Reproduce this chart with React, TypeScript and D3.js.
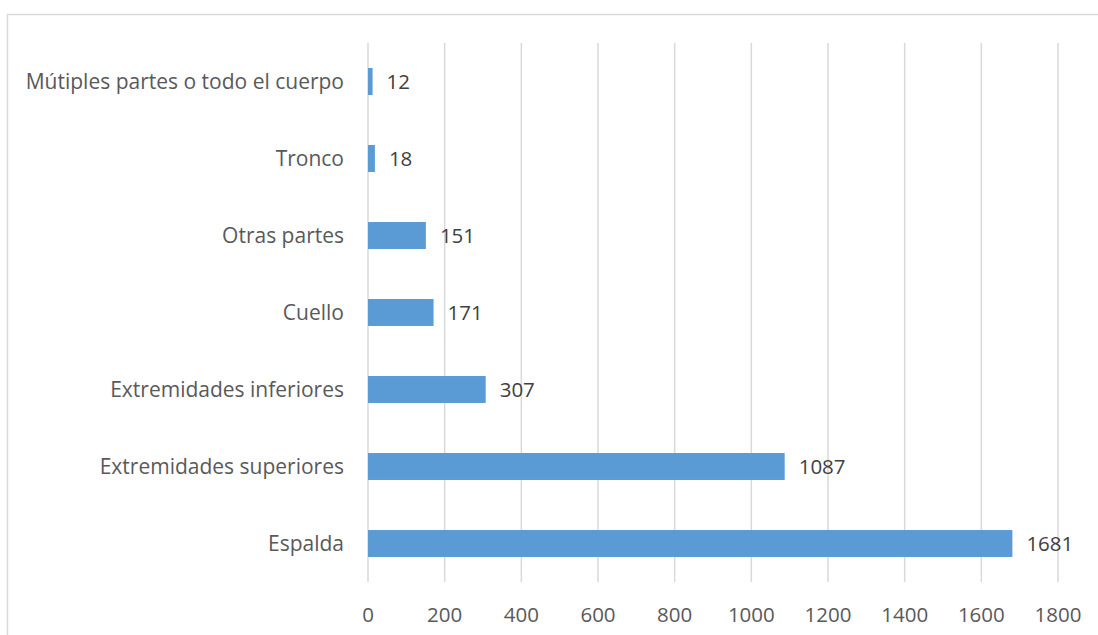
import React from "react";
import * as d3 from "d3";

const categories = [
  "Mútiples partes o todo el cuerpo",
  "Tronco",
  "Otras partes",
  "Cuello",
  "Extremidades inferiores",
  "Extremidades superiores",
  "Espalda",
];
const values = [12, 18, 151, 171, 307, 1087, 1681];
const ticks = [0, 200, 400, 600, 800, 1000, 1200, 1400, 1600, 1800];

const W = 1098;
const H = 635;
const FONT = "'Open Sans', sans-serif";

export default function App() {
  const left = 368;
  const right = 1058;
  const top = 43;
  const bottom = 582;
  const x = d3.scaleLinear().domain([0, 1800]).range([left, right]);
  const y = d3.scaleBand<string>().domain(categories).range([top, bottom]).padding(0);
  const step = y.step();
  const barH = step * 0.35;

  return (
    <svg
      width={W}
      height={H}
      style={{ position: "absolute", left: 0, top: 0, background: "#fff" }}
      fontFamily={FONT}
    >
      <rect x={7.5} y={14.5} width={W} height={H} fill="#fff" stroke="#D9D9D9" strokeWidth={1.5} />
      {ticks.map((t) => (
        <line key={"g" + t} x1={x(t)} x2={x(t)} y1={top} y2={bottom} stroke="#D9D9D9" strokeWidth={1.5} />
      ))}
      {ticks.map((t) => (
        <text key={"t" + t} x={x(t)} y={621.5} textAnchor="middle" fontSize={20.5} fill="#595959">
          {t}
        </text>
      ))}
      {categories.map((c, i) => {
        const cy = (y(c) as number) + step / 2;
        return (
          <g key={c}>
            <rect x={x(0)} y={cy - barH / 2} width={x(values[i]) - x(0)} height={barH} fill="#5B9BD5" />
            <text x={344} y={cy + 7.5} textAnchor="end" fontSize={21} fill="#595959">
              {c}
            </text>
            <text x={x(values[i]) + 14} y={cy + 7.5} textAnchor="start" fontSize={20.5} fill="#404040">
              {values[i]}
            </text>
          </g>
        );
      })}
    </svg>
  );
}
